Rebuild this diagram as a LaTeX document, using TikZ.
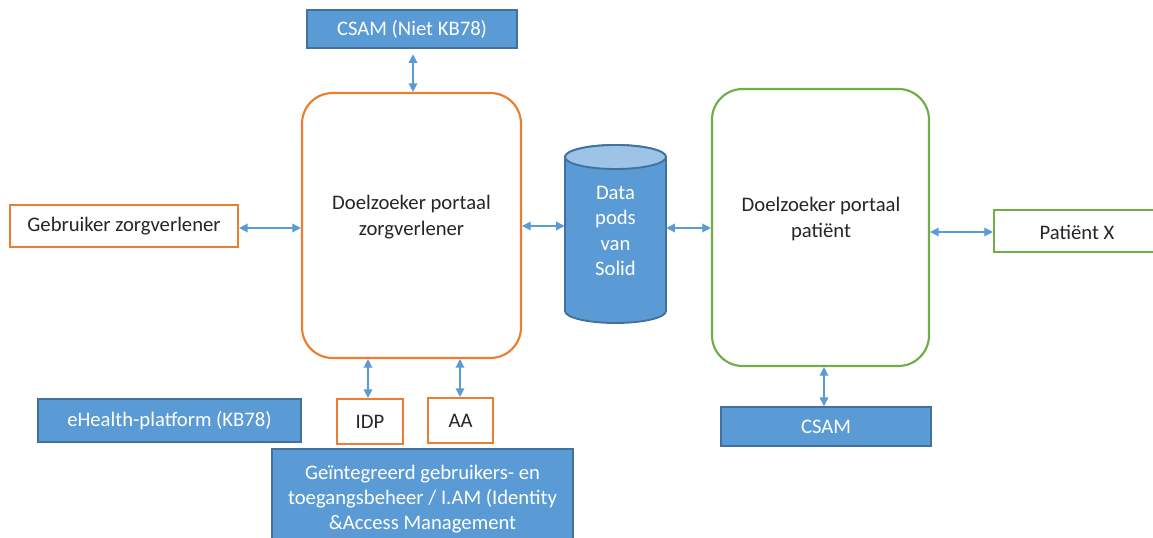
\documentclass[tikz,border=0pt]{standalone}
\usepackage{fontspec}
\setmainfont{Carlito}
\usetikzlibrary{arrows.meta,fit}
\definecolor{bluefill}{HTML}{5B9BD5}
\definecolor{blueedge}{HTML}{41719C}
\definecolor{bluetop}{HTML}{9DC3E6}
\definecolor{orangeedge}{HTML}{ED7D31}
\definecolor{greenedge}{HTML}{70AD47}
\definecolor{txt}{HTML}{262626}
\tikzset{
  bluebox/.style={draw=blueedge, fill=bluefill, line width=1.4pt, inner sep=0pt},
  orangebox/.style={draw=orangeedge, fill=white, line width=1.6pt, inner sep=0pt},
  greenbox/.style={draw=greenedge, fill=white, line width=1.6pt, inner sep=0pt},
  portalorange/.style={orangebox, rounded corners=23pt},
  portalgreen/.style={greenbox, rounded corners=23pt},
  wtext/.style={text=white, align=center, inner sep=0pt},
  dtext/.style={text=txt, align=center, inner sep=0pt},
  link/.style={draw=bluefill, line width=1pt, {Triangle[length=6.5pt,width=6.5pt]}-{Triangle[length=6.5pt,width=6.5pt]}},
}
\begin{document}
\begin{tikzpicture}[x=0.75pt,y=-0.75pt, font=\fontsize{15.5}{19}\selectfont]
\useasboundingbox (0,0) rectangle (1153,538);

% boxes
\node[bluebox, fit={(307,10) (517,48)}] (csamtop) {};
\node[wtext] (csamtoptxt) at (csamtop.center) {CSAM (Niet KB78)};
\node[portalorange, fit={(302,93) (521,358)}] (zorg) {};
\node[dtext] (zorgtxt) at (411.5,217) {Doelzoeker portaal\\zorgverlener};
\node[orangebox, fit={(10,205) (238,247)}] (gebr) {};
\node[dtext] (gebrtxt) at (gebr.center) {Gebruiker zorgverlener};
\node[portalgreen, fit={(712,89) (929,366)}] (pat) {};
\node[dtext] (pattxt) at (821,219) {Doelzoeker portaal\\patiënt};
\node[greenbox, fit={(994,210) (1170,252)}] (patx) {};
\node[dtext] (patxtxt) at (1077,232) {Patiënt X};
\node[bluebox, fit={(721,407) (931,446)}] (csambot) {};
\node[wtext] (csambottxt) at (csambot.center) {CSAM};
\node[bluebox, fit={(38,399) (301,442)}] (ehealth) {};
\node[wtext] (ehealthtxt) at (ehealth.center) {eHealth-platform (KB78)};
\node[orangebox, fit={(337,399) (403,444)}] (idp) {};
\node[dtext] (idptxt) at (idp.center) {IDP};
\node[orangebox, fit={(428,398) (493,443)}] (aa) {};
\node[dtext] (aatxt) at (aa.center) {AA};
\node[bluebox, fit={(272,449) (573,547)}] (iam) {};
\node[wtext] (iamtxt) at (422.5,499) {Geïntegreerd gebruikers- en\\toegangsbeheer / I.AM (Identity\\\&Access Management};

% cylinder
\fill[bluefill, draw=blueedge, line width=1.4pt]
  (565,157) -- (565,311) arc[start angle=180, end angle=360, x radius=37.875pt, y radius=9pt]
  -- (666,157) arc[start angle=0, end angle=180, x radius=37.875pt, y radius=9pt] -- cycle;
\draw[fill=bluetop, draw=blueedge, line width=1.4pt] (615.5,157) ellipse [x radius=37.875pt, y radius=9pt];
\node[inner sep=0pt, fit={(565,169) (666,311)}] (cyl) {};
\node[wtext] (cyltxt) at (615.5,231) {Data\\pods\\van\\Solid};

% connectors
\draw[link] ([yshift=-4pt]csamtop.south -| 413,0) -- (zorg.north -| 413,0);
\draw[link] (gebr.east |- 0,228) -- (zorg.west |- 0,228);
\draw[link] (zorg.east |- 0,226) -- (cyl.west |- 0,226);
\draw[link] (cyl.east |- 0,228) -- (pat.west |- 0,228);
\draw[link] (pat.east |- 0,232) -- (patx.west |- 0,232);
\draw[link] (pat.south -| 824,0) -- (csambot.north -| 824,0);
\draw[link] (zorg.south -| 368,0) -- (idp.north -| 368,0);
\draw[link] (zorg.south -| 460,0) -- (aa.north -| 460,0);
\end{tikzpicture}
\end{document}
